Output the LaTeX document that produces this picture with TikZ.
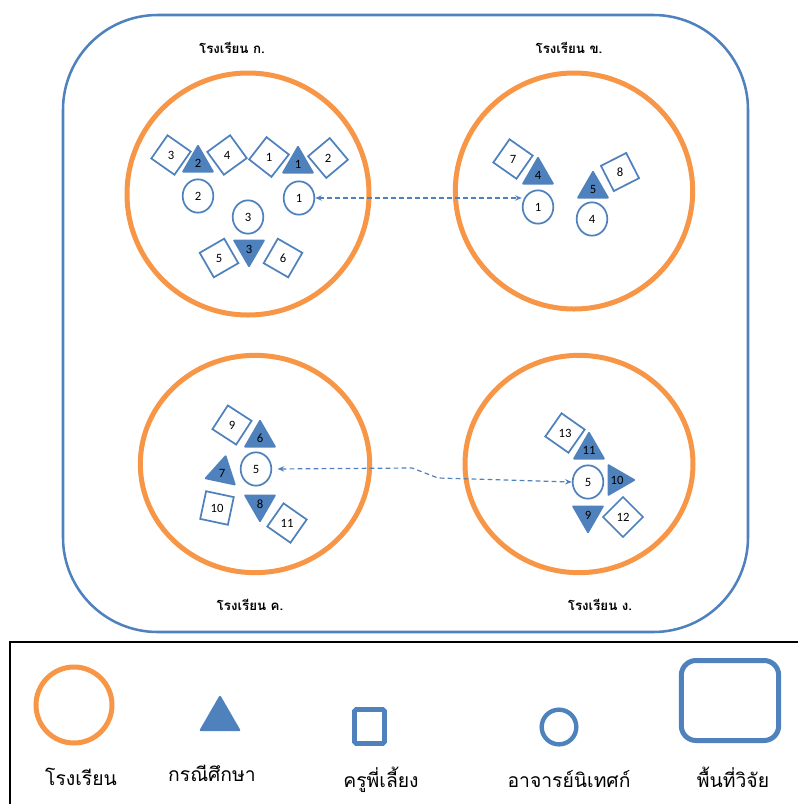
\documentclass[tikz,border=0pt]{standalone}
\usepackage{fontspec}
\setmainfont{Carlito}
\newfontfamily\thai[Script=Thai]{Loma}
\usetikzlibrary{shapes.geometric,arrows.meta}
\definecolor{org}{HTML}{F79646}
\definecolor{blu}{HTML}{4F81BD}
\begin{document}
\begin{tikzpicture}[x=0.75pt,y=-0.75pt,
  school/.style={draw=org,line width=3.75pt,ellipse,inner sep=0pt},
  sq/.style={regular polygon,regular polygon sides=4,draw=blu,line width=1.3pt,fill=white,
     minimum size=30pt,inner sep=0pt,font=\fontsize{9.5}{10}\selectfont},
  tri/.style={regular polygon,regular polygon sides=3,fill=blu,minimum size=28.5pt,
     inner sep=0pt,rounded corners=1pt,font=\fontsize{9.5}{10}\selectfont},
  tch/.style={ellipse,draw=blu,line width=1.3pt,fill=white,minimum width=23pt,
     minimum height=25pt,inner sep=0pt,font=\fontsize{9.5}{10}\selectfont},
  slabel/.style={font=\thai\bfseries\fontsize{10}{12}\selectfont,anchor=base},
  leg/.style={font=\thai\fontsize{14.5}{16}\selectfont,anchor=base},
  link/.style={draw=blu,line width=0.9pt,dash pattern=on 3.5pt off 2.5pt,
     {Stealth[length=5pt,width=4pt]}-{Stealth[length=5pt,width=4pt]}}]
\useasboundingbox (0,0) rectangle (798,804);
\clip (0,0) rectangle (798,804);
% research area
\draw[blu,line width=1.9pt,rounded corners=71pt] (63,15) rectangle (748,632);
% schools
\node[school,minimum width=181.5pt,minimum height=181.5pt] (ska) at (248,194) {};
\node[school,minimum width=178pt,minimum height=177pt] (skb) at (574,191) {};
\node[school,minimum width=172pt,minimum height=163pt] (skc) at (255,464) {};
\node[school,minimum width=171pt,minimum height=163pt] (skd) at (579,464) {};
\node[slabel] (lka) at (232,53) {โรงเรียน ก.};
\node[slabel] (lkb) at (569,53) {โรงเรียน ข.};
\node[slabel] (lkc) at (250,610) {โรงเรียน ค.};
\node[slabel] (lkd) at (600,610) {โรงเรียน ง.};
% school A
\node[sq,shape border rotate=-35] (a3) at (171,155) {3};
\node[sq,shape border rotate=36] (a4) at (227,155) {4};
\node[sq,shape border rotate=-38] (a1) at (269,157) {1};
\node[sq,shape border rotate=40] (a2) at (328,158) {2};
\node[sq,shape border rotate=30] (a5) at (219,258) {5};
\node[sq,shape border rotate=-30] (a6) at (283,258) {6};
\node[tri] (ta2) at (198,163) {2};
\node[tri] (ta1) at (298,164) {1};
\node[tri,shape border rotate=180] (ta3) at (249,249) {3};
\node[tch] (ca2) at (198,196) {2};
\node[tch] (ca1) at (299,198) {1};
\node[tch] (ca3) at (248,217) {3};
% school B
\node[sq,shape border rotate=-35] (b7) at (513,159) {7};
\node[sq,shape border rotate=27] (b8) at (620,172) {8};
\node[tri] (tb4) at (538,175) {4};
\node[tri] (tb5) at (593,189) {5};
\node[tch] (cb1) at (538,207) {1};
\node[tch] (cb4) at (592,219) {4};
% school C
\node[sq,shape border rotate=-33] (c9) at (232,425) {9};
\node[sq,shape border rotate=-12] (c10) at (217,508) {10};
\node[sq,shape border rotate=-35] (c11) at (287,523) {11};
\node[tri] (tc6) at (260,438) {6};
\node[tri,shape border rotate=-12] (tc7) at (222,473) {7};
\node[tri,shape border rotate=180] (tc8) at (260,504) {8};
\node[tch] (cc5) at (256,469) {5};
% school D
\node[sq,shape border rotate=-35] (d13) at (565,433) {13};
\node[sq,shape border rotate=45] (d12) at (623,517) {12};
\node[tri] (td11) at (589,450) {11};
\node[tri,shape border rotate=-90] (td10) at (617,480) {10};
\node[tri,shape border rotate=180] (td9) at (588,515) {9};
\node[tch] (cd5) at (588,482) {5};
% links
\draw[link] (ca1.east) -- (ca1.east -| cb1.west);
\coordinate (m1) at (412,468);
\coordinate (m2) at (438,478);
\draw[link,shorten <=4pt] (cc5.east) -- (m1) -- (m2) -- (cd5.west);
% legend
\draw[black,line width=1.6pt] (10,815) -- (10,642) -- (810,642);
\node[draw=org,line width=3.75pt,circle,minimum size=57pt,inner sep=0pt] (lg1) at (74,705) {};
\node[regular polygon,regular polygon sides=3,fill=blu,minimum size=36.4pt,inner sep=0pt,rounded corners=1.5pt] (lg2) at (220,719) {};
\node[draw=blu,line width=3.5pt,rectangle,minimum width=22.5pt,minimum height=25.5pt,inner sep=0pt,rounded corners=1.2pt] (lg3) at (369.5,726.5) {};
\node[draw=blu,line width=3.3pt,circle,minimum size=26pt,inner sep=0pt] (lg4) at (559,727) {};
\node[draw=blu,line width=3.75pt,rectangle,rounded corners=11pt,minimum width=73pt,minimum height=60pt,inner sep=0pt] (lg5) at (730,700.5) {};
\node[leg] (tl1) at (81,785) {โรงเรียน};
\node[leg] (tl2) at (212,781) {กรณีศึกษา};
\node[leg] (tl3) at (381,787) {ครูพี่เลี้ยง};
\node[leg] (tl4) at (569,787) {อาจารย์นิเทศก์};
\node[leg] (tl5) at (733,787) {พื้นที่วิจัย};
\end{tikzpicture}
\end{document}
